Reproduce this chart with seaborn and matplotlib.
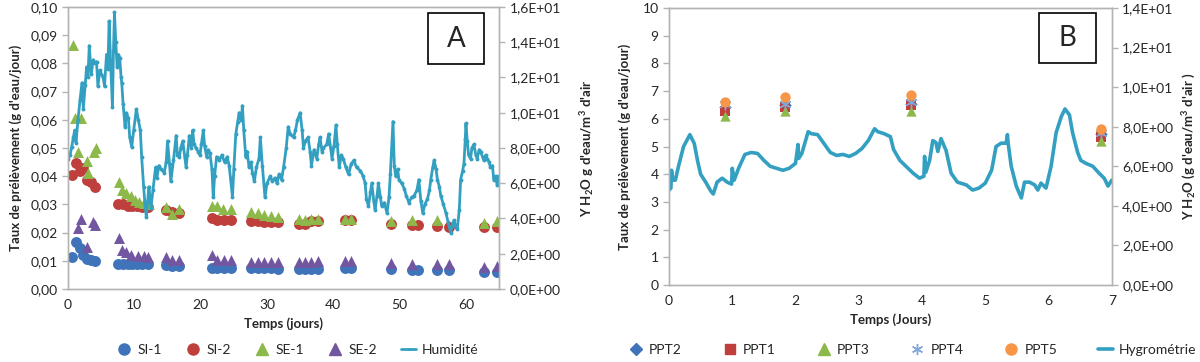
import matplotlib.pyplot as plt
import matplotlib.patches as mpatches
from matplotlib.lines import Line2D
from matplotlib.ticker import FuncFormatter
import numpy as np
import seaborn as sns

sns.set_style("white")
plt.rcParams['font.family'] = ['Lato', 'DejaVu Sans']
plt.rcParams['mathtext.fontset'] = 'custom'
plt.rcParams['mathtext.rm'] = 'Lato:bold'
plt.rcParams['mathtext.default'] = 'rm'

# ---------------- Panel A data ----------------
si1_t = [0.6, 1.2, 1.8, 2.3, 2.9, 3.4, 4.0, 7.6, 8.3, 9.0, 9.7, 10.4, 11.2, 12.0, 14.8, 15.7, 16.7,
         21.7, 22.5, 23.5, 24.5, 27.6, 28.6, 29.6, 30.6, 31.6, 34.8, 35.8, 36.7, 37.7, 41.7, 42.7,
         48.7, 51.8, 52.8, 55.7, 57.5, 62.7, 64.7]
si1_v = [0.0113, 0.0165, 0.0145, 0.0122, 0.0108, 0.0103, 0.0101, 0.0090, 0.0089, 0.0089, 0.0090, 0.0090, 0.0089, 0.0088,
         0.0084, 0.0083, 0.0082, 0.0076, 0.0075, 0.0075, 0.0075, 0.0074, 0.0074, 0.0073, 0.0073, 0.0072,
         0.0071, 0.0071, 0.0072, 0.0072, 0.0073, 0.0073, 0.0070, 0.0069, 0.0068, 0.0066, 0.0066, 0.0062, 0.0062]

si2_t = [0.6, 1.2, 1.8, 2.3, 2.9, 3.4, 4.0, 7.6, 8.3, 9.0, 9.7, 10.4, 11.2, 12.0, 14.8, 15.7, 16.7,
         21.7, 22.5, 23.5, 24.5, 27.6, 28.6, 29.6, 30.6, 31.6, 34.8, 35.8, 36.7, 37.7, 41.7, 42.7,
         48.7, 51.8, 52.8, 55.7, 57.5, 62.7, 64.7]
si2_v = [0.0404, 0.0445, 0.0420, 0.0430, 0.0385, 0.0378, 0.0362, 0.0300, 0.0300, 0.0296, 0.0294, 0.0293, 0.0290, 0.0292,
         0.0280, 0.0272, 0.0270, 0.0252, 0.0246, 0.0246, 0.0246, 0.0241, 0.0240, 0.0237, 0.0236, 0.0236,
         0.0232, 0.0232, 0.0240, 0.0240, 0.0246, 0.0246, 0.0232, 0.0226, 0.0226, 0.0222, 0.0220, 0.0220, 0.0220]

se1_t = [0.7, 1.0, 1.5, 1.9, 2.9, 3.0, 3.9, 4.2, 7.7, 8.1, 8.8, 9.5, 10.1, 10.7, 11.5, 12.2, 14.8, 15.7, 16.7,
         21.7, 22.5, 23.3, 24.5, 27.6, 28.6, 29.6, 30.6, 31.6, 34.8, 35.8, 36.7, 37.7, 41.7, 42.7,
         48.7, 51.8, 55.7, 62.7, 64.7]
se1_v = [0.0865, 0.0606, 0.0487, 0.0606, 0.0455, 0.0410, 0.0487, 0.0500, 0.0380, 0.0350, 0.0340, 0.0330, 0.0315, 0.0310,
         0.0305, 0.0300, 0.0292, 0.0265, 0.0285, 0.0295, 0.0293, 0.0283, 0.0285, 0.0272, 0.0268, 0.0264, 0.0260, 0.0255,
         0.0247, 0.0244, 0.0247, 0.0247, 0.0248, 0.0248, 0.0240, 0.0244, 0.0245, 0.0235, 0.0240]

se2_t = [1.5, 1.9, 2.9, 3.7, 4.1, 7.7, 8.1, 8.8, 9.5, 10.5, 11.5, 12.1, 14.8, 15.7, 16.7,
         21.7, 22.5, 23.5, 24.5, 27.6, 28.6, 29.6, 30.6, 31.6, 34.8, 35.8, 36.7, 37.7, 41.7, 42.7,
         48.7, 51.8, 55.7, 57.5, 62.7, 64.7]
se2_v = [0.0218, 0.0248, 0.0150, 0.0236, 0.0228, 0.0182, 0.0137, 0.0132, 0.0122, 0.0118, 0.0118, 0.0112, 0.0112, 0.0103, 0.0102,
         0.0120, 0.0102, 0.0102, 0.0102, 0.0097, 0.0097, 0.0096, 0.0095, 0.0095, 0.0095, 0.0096, 0.0097, 0.0098,
         0.0098, 0.0100, 0.0092, 0.0090, 0.0087, 0.0087, 0.0077, 0.0083]

hum_t = [0.0, 0.3, 0.55, 0.8, 1.0, 1.2, 1.5, 1.8, 2.1, 2.3, 2.6, 2.8, 3.0, 3.2, 3.5, 3.8, 4.0, 4.3, 4.5, 4.8,
         5.0, 5.3, 5.5, 5.8, 6.0, 6.2, 6.4, 6.7, 6.85, 7.0, 7.2, 7.4, 7.6, 7.8, 8.0, 8.1, 8.3, 8.6, 8.8, 9.1,
         9.3, 9.6, 9.9, 10.3, 10.6, 10.9, 11.1, 11.4, 11.6, 11.8, 12.0, 12.2, 12.5, 12.8, 13.2, 13.4, 13.7, 14.0, 14.5, 14.8,
         15.0, 15.3, 15.5, 15.9, 16.3, 16.5, 16.8, 17.0, 17.3, 17.6, 17.8, 18.0, 18.3, 18.6, 18.8, 19.0, 19.3, 19.6, 19.9, 20.1,
         20.4, 20.6, 20.9, 21.1, 21.4, 21.7, 21.9, 22.1, 22.4, 22.8, 23.2, 23.6, 24.0, 24.3, 24.5, 24.8, 25.0, 25.3, 25.6, 25.8,
         26.1, 26.3, 26.5, 26.8, 27.0, 27.3, 27.6, 27.8, 28.1, 28.4, 28.8, 29.0, 29.3, 29.7, 30.0, 30.5, 30.8, 31.2, 31.5, 31.8,
         32.2, 32.5, 32.9, 33.2, 33.5, 34.0, 34.3, 34.6, 35.0, 35.3, 35.5, 35.8, 36.2, 36.5, 36.7, 37.1, 37.5, 37.8, 38.0, 38.3,
         38.5, 39.0, 39.3, 39.6, 39.8, 40.1, 40.4, 40.6, 40.9, 41.2, 41.5, 41.9, 42.3, 42.7, 43.1, 43.5, 44.1, 44.5, 44.8, 45.0,
         45.3, 45.6, 45.8, 46.1, 46.3, 46.6, 46.8, 47.1, 47.3, 47.7, 48.1, 48.4, 48.6, 48.8, 49.0, 49.2, 49.4, 49.7, 49.9, 50.3,
         50.7, 51.0, 51.4, 51.8, 52.2, 52.6, 52.9, 53.2, 53.5, 53.8, 54.2, 54.5, 54.7, 55.0, 55.2, 55.5, 55.7, 56.0, 56.2, 56.6,
         57.0, 57.3, 57.7, 57.9, 58.2, 58.5, 58.7, 59.0, 59.2, 59.5, 59.7, 59.9, 60.0, 60.2, 60.4, 60.7, 60.9, 61.2, 61.5, 61.7,
         62.0, 62.2, 62.5, 62.7, 63.0, 63.2, 63.5, 63.7, 64.0, 64.2, 64.5, 64.7, 65.0]
hum_v = [7.4, 7.6, 8.05, 8.6, 9.0, 8.3, 9.6, 10.7, 11.7, 10.2, 11.6, 12.6, 12.0, 13.8, 12.2, 13.0, 12.8, 12.9, 11.5, 12.4,
         12.2, 12.0, 11.5, 13.3, 12.5, 15.2, 13.0, 10.3, 13.5, 15.7, 14.0, 12.6, 13.3, 13.1, 12.0, 11.7, 10.5, 9.2, 10.0, 9.7,
         8.6, 8.05, 9.0, 10.2, 9.6, 9.0, 7.5, 5.8, 4.8, 4.1, 5.0, 5.8, 4.6, 5.6, 6.9, 6.3, 7.0, 6.8, 6.6, 7.2,
         8.4, 7.1, 6.1, 7.3, 8.7, 7.6, 7.5, 8.0, 8.4, 7.5, 6.9, 7.6, 8.7, 8.0, 9.0, 8.2, 8.0, 7.8, 7.6, 8.2,
         9.0, 8.1, 7.5, 7.9, 7.7, 6.8, 5.2, 6.4, 7.5, 7.3, 7.6, 7.2, 7.5, 7.0, 6.3, 5.2, 6.8, 8.8, 9.5, 10.0,
         9.6, 10.4, 9.0, 7.5, 7.8, 6.9, 7.2, 6.6, 6.1, 6.9, 7.4, 8.6, 7.0, 5.2, 6.0, 6.4, 6.1, 6.3, 6.0, 6.5,
         6.2, 6.9, 8.0, 9.2, 8.8, 8.6, 9.0, 9.6, 10.0, 9.0, 8.0, 8.4, 8.6, 7.8, 7.0, 7.9, 7.4, 8.2, 8.6, 7.8,
         8.0, 8.2, 8.8, 8.0, 7.4, 8.1, 9.3, 8.2, 6.9, 7.6, 7.4, 6.9, 6.5, 7.1, 7.3, 6.9, 6.7, 6.4, 6.0, 5.1,
         4.7, 5.5, 6.0, 5.0, 4.5, 5.3, 6.0, 5.2, 4.7, 4.9, 4.3, 5.2, 6.5, 8.0, 9.5, 7.0, 6.4, 6.8, 6.2, 6.0,
         5.7, 5.3, 4.9, 5.2, 5.3, 5.6, 6.2, 5.0, 4.3, 4.8, 5.1, 5.6, 6.2, 6.9, 7.3, 6.8, 6.2, 5.8, 5.3, 4.8,
         4.3, 3.8, 3.2, 3.6, 3.9, 3.5, 3.4, 4.5, 6.2, 6.7, 7.1, 8.5, 9.4, 8.4, 7.6, 7.4, 8.0, 8.2, 7.6, 7.4,
         7.9, 7.8, 7.5, 7.3, 7.6, 7.4, 7.2, 6.9, 7.0, 6.2, 6.4, 5.9, 6.4]

# ---------------- Panel B data ----------------
ppt_t = [0.88, 1.83, 3.82, 6.83]
ppt2_v = [6.42, 6.50, 6.55, 5.45]
ppt1_v = [6.28, 6.42, 6.50, 5.36]
ppt3_v = [6.10, 6.30, 6.30, 5.20]
ppt4_v = [6.55, 6.55, 6.60, 5.50]
ppt5_v = [6.60, 6.78, 6.85, 5.62]

hyg_t = [0.0, 0.03, 0.04, 0.06, 0.1, 0.15, 0.23, 0.33, 0.4, 0.45, 0.5, 0.58, 0.66, 0.7, 0.76, 0.84, 0.92, 0.99, 1.0, 1.03,
         1.1, 1.2, 1.3, 1.4, 1.5, 1.6, 1.7, 1.8, 1.9, 2.0, 2.04, 2.05, 2.1, 2.2, 2.25, 2.35, 2.45, 2.55, 2.65, 2.75,
         2.85, 2.95, 3.05, 3.15, 3.25, 3.3, 3.4, 3.5, 3.55, 3.65, 3.75, 3.86, 3.96, 4.03, 4.04, 4.06, 4.12, 4.17, 4.22, 4.25,
         4.3, 4.38, 4.46, 4.56, 4.7, 4.8, 4.9, 5.0, 5.1, 5.17, 5.25, 5.33, 5.35, 5.36, 5.41, 5.49, 5.57, 5.62, 5.7, 5.78,
         5.83, 5.88, 5.96, 6.04, 6.12, 6.2, 6.26, 6.33, 6.38, 6.46, 6.51, 6.59, 6.7, 6.8, 6.88, 6.94, 7.0]
hyg_v = [4.8, 4.9, 5.8, 5.3, 5.3, 6.0, 7.0, 7.6, 7.15, 6.3, 5.6, 5.2, 4.75, 4.6, 5.2, 5.4, 5.2, 5.1, 5.9, 5.3,
         5.9, 6.6, 6.7, 6.65, 6.3, 6.0, 5.9, 5.8, 5.9, 6.15, 7.1, 6.4, 6.65, 7.75, 7.65, 7.6, 7.15, 6.7, 6.55, 6.6,
         6.5, 6.65, 6.9, 7.3, 7.9, 7.75, 7.65, 7.5, 6.85, 6.3, 5.99, 5.65, 5.4, 5.5, 6.5, 5.7, 6.3, 7.3, 7.2, 6.75,
         7.4, 6.8, 5.65, 5.2, 5.06, 4.8, 4.9, 5.15, 5.8, 7.0, 7.17, 7.17, 7.6, 7.2, 6.0, 5.0, 4.4, 5.2, 5.2, 5.06,
         4.8, 5.15, 4.9, 6.0, 7.7, 8.5, 8.9, 8.6, 7.7, 6.7, 6.3, 6.15, 6.0, 5.65, 5.4, 5.0, 5.3]

c_blue = "#3F74BA"
c_red = "#BE3F3C"
c_green = "#8DB84A"
c_purple = "#7356A0"
c_hum = "#33A0C2"
c_orange = "#F79646"
c_star = "#7FA6D8"
spine_c = "#B3B3B3"
txt_c = "#262626"

fig = plt.figure(figsize=(12, 3.62), dpi=100)
axA = fig.add_axes([0.0567, 0.2017, 0.3592, 0.779])
axB = fig.add_axes([0.5575, 0.2127, 0.369, 0.765])


def style(ax):
    for s in ax.spines.values():
        s.set_color(spine_c)
        s.set_linewidth(1.0)
    ax.tick_params(axis='both', which='major', length=4, width=1, color=spine_c,
                   labelsize=10, labelcolor=txt_c, direction='out')


def sci_comma(v, pos):
    return f"{v:.1E}".replace('.', ',')


# ---- Panel A ----
ms = 62
sns.scatterplot(x=si1_t, y=si1_v, ax=axA, marker='o', color=c_blue, s=ms, linewidth=0, zorder=3)
sns.scatterplot(x=si2_t, y=si2_v, ax=axA, marker='o', color=c_red, s=ms, linewidth=0, zorder=3)
sns.scatterplot(x=se1_t, y=se1_v, ax=axA, marker='^', color=c_green, s=ms, linewidth=0, zorder=3)
sns.scatterplot(x=se2_t, y=se2_v, ax=axA, marker='^', color=c_purple, s=ms, linewidth=0, zorder=3)
axA.set_xlim(0, 65)
axA.set_ylim(0, 0.10)
axA.set_xticks(range(0, 61, 10))
axA.set_yticks(np.arange(0, 0.101, 0.01))
axA.yaxis.set_major_formatter(FuncFormatter(lambda v, p: f"{v:.2f}".replace('.', ',')))
axA.set_xlabel("Temps (jours)", fontsize=9.5, fontweight='bold', color=txt_c, labelpad=4)
axA.set_ylabel("Taux de prélèvement (g d'eau/jour)", fontsize=9.5, fontweight='bold', color=txt_c, labelpad=6)

axA2 = axA.twinx()
sns.lineplot(x=hum_t, y=hum_v, ax=axA2, sort=False, estimator=None, color=c_hum, lw=2.0,
             marker='o', markersize=2.8, markeredgewidth=0)
axA2.set_ylim(0, 16)
axA2.set_yticks(np.arange(0, 16.1, 2))
axA2.yaxis.set_major_formatter(FuncFormatter(sci_comma))
axA2.set_ylabel("Y H$_2$O g d'eau/m$^3$ d'air", fontsize=9.5, fontweight='bold', color=txt_c, labelpad=12)
for a in (axA, axA2):
    style(a)

axA.add_patch(mpatches.Rectangle((0.835, 0.798), 0.130, 0.181, transform=axA.transAxes,
                                 fill=False, edgecolor='black', lw=1.2, zorder=10))
axA.text(0.90, 0.888, "A", transform=axA.transAxes, ha='center', va='center', fontsize=20, zorder=11)

# ---- Panel B ----
msb = 55
sns.scatterplot(x=ppt_t, y=ppt2_v, ax=axB, marker='D', color=c_blue, s=40, linewidth=0, zorder=3)
sns.scatterplot(x=ppt_t, y=ppt1_v, ax=axB, marker='s', color=c_red, s=msb, linewidth=0, zorder=3)
sns.scatterplot(x=ppt_t, y=ppt3_v, ax=axB, marker='^', color=c_green, s=msb, linewidth=0, zorder=3)
sns.scatterplot(x=ppt_t, y=ppt4_v, ax=axB, marker=(6, 2, 0), color=c_star, edgecolor=c_star,
                s=60, linewidth=1.0, zorder=3)
sns.scatterplot(x=ppt_t, y=ppt5_v, ax=axB, marker='o', color=c_orange, s=msb, linewidth=0, zorder=3)
axB.set_xlim(0, 7)
axB.set_ylim(0, 10)
axB.set_xticks(range(0, 8))
axB.set_yticks(range(0, 11))
axB.set_xlabel("Temps (Jours)", fontsize=9.5, fontweight='bold', color=txt_c, labelpad=4)
axB.set_ylabel("Taux de prélèvement (g d'eau/jour)", fontsize=9.5, fontweight='bold', color=txt_c, labelpad=8)

axB2 = axB.twinx()
sns.lineplot(x=hyg_t, y=hyg_v, ax=axB2, sort=False, estimator=None, color=c_hum, lw=2.6)
axB2.set_ylim(0, 14)
axB2.set_yticks(np.arange(0, 14.1, 2))
axB2.yaxis.set_major_formatter(FuncFormatter(sci_comma))
axB2.set_ylabel("Y H$_2$O (g d'eau/m$^3$ d'air )", fontsize=9.5, fontweight='bold', color=txt_c, labelpad=5)
for a in (axB, axB2):
    style(a)

axB.add_patch(mpatches.Rectangle((0.835, 0.801), 0.129, 0.181, transform=axB.transAxes,
                                 fill=False, edgecolor='black', lw=1.2, zorder=10))
axB.text(0.8995, 0.891, "B", transform=axB.transAxes, ha='center', va='center', fontsize=20, zorder=11)

for a in (axA, axA2, axB, axB2):
    if a.get_legend() is not None:
        a.get_legend().remove()

# ---- Legends ----
hA = [Line2D([], [], ls='', marker='o', color=c_blue, ms=8),
      Line2D([], [], ls='', marker='o', color=c_red, ms=8),
      Line2D([], [], ls='', marker='^', color=c_green, ms=8),
      Line2D([], [], ls='', marker='^', color=c_purple, ms=8),
      Line2D([], [], color=c_hum, lw=2, marker='o', ms=2, mew=0)]
fig.legend(hA, ["SI-1", "SI-2", "SE-1", "SE-2", "Humidité"], loc='center',
           bbox_to_anchor=(0.248, 0.033), ncol=5, frameon=False, fontsize=10,
           handlelength=1.1, handletextpad=0.4, columnspacing=1.7)

hB = [Line2D([], [], ls='', marker='D', color=c_blue, ms=6),
      Line2D([], [], ls='', marker='s', color=c_red, ms=7),
      Line2D([], [], ls='', marker='^', color=c_green, ms=8),
      Line2D([], [], ls='', marker=(6, 2, 0), color=c_star, ms=8, mew=1),
      Line2D([], [], ls='', marker='o', color=c_orange, ms=8),
      Line2D([], [], color=c_hum, lw=2.6)]
fig.legend(hB, ["PPT2", "PPT1", "PPT3", "PPT4", "PPT5", "Hygrométrie"], loc='center',
           bbox_to_anchor=(0.76, 0.033), ncol=6, frameon=False, fontsize=10,
           handlelength=1.1, handletextpad=0.4, columnspacing=2.9)

plt.savefig('out.png', dpi=100)
